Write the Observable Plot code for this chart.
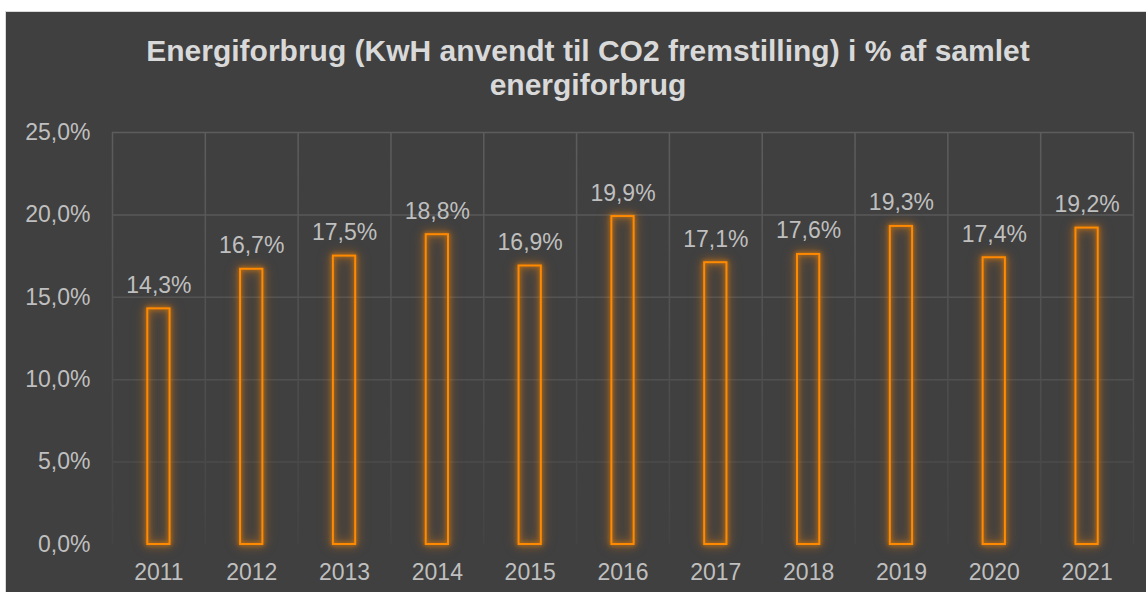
<!DOCTYPE html>
<html>
<head>
<meta charset="utf-8">
<script src="https://cdn.jsdelivr.net/npm/d3@7"></script>
<script src="https://cdn.jsdelivr.net/npm/@observablehq/plot@0.6"></script>
<style>
  html, body { margin: 0; padding: 0; background: #ffffff; width: 1146px; height: 592px; overflow: hidden; }
  #panel { position: absolute; left: 5px; top: 11px; width: 1160px; height: 600px; box-sizing: border-box;
           background: #404040; border: 1px solid #d9d9d9; overflow: hidden; }
  #title { position: absolute; left: 0; top: 22px; width: 1164px; text-align: center;
           font-family: "Liberation Sans", Arial, sans-serif; font-weight: bold; font-size: 30px; line-height: 34px; color: #d9d9d9; }
  #chart { position: absolute; left: 0; top: 89px; }
  #chart svg text { font-size: 23px; font-family: "Liberation Sans", Arial, sans-serif; }
</style>
</head>
<body>
<div id="panel">
  <div id="title">Energiforbrug (KwH anvendt til CO2 fremstilling) i % af samlet<br>energiforbrug</div>
  <div id="chart"></div>
</div>
<script>
const years = [2011, 2012, 2013, 2014, 2015, 2016, 2017, 2018, 2019, 2020, 2021];
const values = [14.3, 16.7, 17.5, 18.8, 16.9, 19.9, 17.1, 17.6, 19.3, 17.4, 19.2];
const yTicks = [0, 5, 10, 15, 20, 25];

const data = years.map((year, i) => ({year, value: values[i]}));
const fmt = v => v.toFixed(1).replace(".", ",") + "%";
const boundaries = [...years.map(y => y - 0.5), years[years.length - 1] + 0.5];
const halfBar = 0.12;

const plot = Plot.plot({
  width: 1140,
  height: 491,
  marginLeft: 106,
  marginRight: 13,
  marginTop: 31,
  marginBottom: 48,
  style: {background: "transparent", color: "#bfbfbf", fontSize: "23px", fontFamily: "'Liberation Sans', Arial, sans-serif", overflow: "visible"},
  x: {type: "linear", domain: [years[0] - 0.5, years[years.length - 1] + 0.5], ticks: years.length, tickFormat: d3.format("d"), tickSize: 0, tickPadding: 19, label: null, line: false},
  y: {domain: [0, 25], ticks: 5, tickFormat: fmt, tickSize: 0, tickPadding: 22, label: null},
  color: {type: "linear", domain: [0, 25], range: ["#474747", "#5d5d5d"]},
  marks: [
    Plot.ruleY(yTicks.filter(v => v > 0), {y: d => d, stroke: d => d, strokeWidth: 1.5}),
    Plot.ruleX(boundaries, {x: d => d, y1: 0, y2: 25, stroke: "url(#vgrid)", strokeWidth: 1.5}),
    Plot.rectY(data, {x1: d => d.year - halfBar, x2: d => d.year + halfBar, y1: 0, y2: "value", fill: "none", stroke: "#ff8a00", strokeWidth: 2}),
    Plot.text(data, {x: "year", y: "value", text: d => fmt(d.value), lineAnchor: "bottom", dy: -16, fill: "#bfbfbf", fontSize: 23})
  ]
});

// gradient for vertical gridlines, using the plot's own y scale
const yScale = plot.scale("y");
const svg = d3.select(plot.tagName.toLowerCase() === "svg" ? plot : plot.querySelector("svg"));
const defs = svg.insert("defs", ":first-child");
const grad = defs.append("linearGradient").attr("id", "vgrid").attr("gradientUnits", "userSpaceOnUse")
  .attr("x1", 0).attr("x2", 0).attr("y1", yScale.apply(25)).attr("y2", yScale.apply(0));
grad.append("stop").attr("offset", "0%").attr("stop-color", "#5d5d5d");
grad.append("stop").attr("offset", "100%").attr("stop-color", "#444444");

svg.selectAll('g[aria-label="rect"] rect').style("filter", "drop-shadow(0 0 2px rgba(255,138,0,0.8)) drop-shadow(0 0 4px rgba(255,138,0,0.5)) drop-shadow(0 0 6px rgba(200,110,20,0.35))");

document.getElementById("chart").appendChild(plot);
</script>
</body>
</html>
